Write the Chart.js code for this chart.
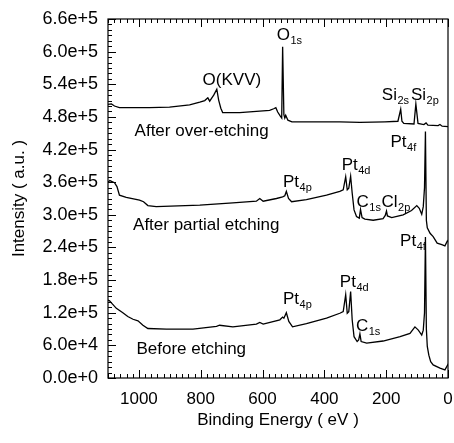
<!DOCTYPE html>
<html>
<head>
<meta charset="utf-8">
<script src="https://cdn.jsdelivr.net/npm/chart.js@4/dist/chart.umd.min.js"></script>
<style>
  html, body { margin: 0; padding: 0; background: #fff; }
  #wrap { width: 454px; height: 443px; }
</style>
</head>
<body>
<div id="wrap"><canvas id="xps"></canvas></div>
<script>
// XPS survey spectra (binding energy in eV, intensity in counts)

// After over-etching
const energyOver = [1100, 1089, 1079, 1063, 966, 901, 836, 803, 787, 777, 771, 764, 758, 748, 742, 735, 729,
  674, 577, 564, 557, 551, 543, 538, 535, 531, 528, 525, 518, 505, 350, 285, 204, 162, 153, 149, 143,
  110, 104, 97, 78, 71, 65, 32, 26, 19, 0];
const intensityOver = [503e3, 504e3, 500e3, 497e3, 497e3, 498e3, 502e3, 507e3, 510e3, 515e3, 509e3, 515e3, 520e3, 531e3, 511e3, 496e3, 488e3,
  488e3, 492e3, 495e3, 497e3, 489e3, 482e3, 478e3, 609e3, 484e3, 478e3, 483e3, 474e3, 471e3, 471e3, 470e3, 471e3, 472e3, 494e3, 472e3, 468e3,
  467e3, 504e3, 468e3, 466e3, 469e3, 465e3, 464e3, 466e3, 463e3, 462e3];

// After partial etching
const energyPartial = [1100, 1094, 1079, 1071, 1063, 1041, 998, 985, 971, 944, 803, 696, 620, 609, 598, 555,
  535, 528, 523, 516, 506, 458, 393, 350, 339, 331, 326, 321, 315, 310, 304, 296, 287, 283, 278, 269,
  242, 210, 203, 199, 196, 182, 145, 118, 101, 93, 85, 80, 76, 73, 70, 67, 58, 48, 35, 20, 10, 2, 0];
const intensityPartial = [360e3, 363e3, 359e3, 352e3, 336e3, 332e3, 327e3, 324e3, 317e3, 315e3, 318e3, 322e3, 325e3, 330e3, 325e3, 330e3,
  333e3, 335e3, 343e3, 330e3, 324e3, 328e3, 336e3, 343e3, 346e3, 370e3, 346e3, 349e3, 371e3, 340e3, 309e3, 297e3, 294e3, 310e3, 295e3, 292e3,
  290e3, 293e3, 299e3, 307e3, 298e3, 295e3, 300e3, 308e3, 317e3, 312e3, 301e3, 315e3, 350e3, 453e3, 290e3, 276e3, 266e3, 260e3, 248e3, 245e3, 243e3, 252e3, 250e3];

// Before etching
const energyBefore = [1100, 1095, 1089, 1073, 1052, 1036, 1019, 1003, 987, 971, 911, 825, 749, 739, 696, 620,
  609, 598, 544, 535, 531, 523, 515, 503, 458, 393, 350, 339, 331, 326, 321, 315, 310, 304, 294, 289,
  285, 281, 263, 210, 155, 123, 107, 96, 85, 80, 76, 73, 70, 67, 62, 56, 48, 26, 10, 1, 0];
const intensityBefore = [143e3, 142e3, 138e3, 128e3, 120e3, 113e3, 108e3, 105e3, 97e3, 91e3, 90e3, 90e3, 95e3, 97e3, 94e3, 99e3,
  102e3, 99e3, 107e3, 112e3, 110e3, 120e3, 104e3, 94e3, 100e3, 110e3, 119e3, 122e3, 153e3, 119e3, 122e3, 159e3, 107e3, 76e3, 67e3, 70e3,
  81e3, 67e3, 64e3, 68e3, 76e3, 82e3, 94e3, 88e3, 79e3, 88e3, 120e3, 259e3, 90e3, 58e3, 42e3, 30e3, 24e3, 18e3, 15e3, 24e3, 22e3];

// tick values (x axis is reversed, so listed left to right)
const xTicks = [1000, 800, 600, 400, 200, 0];
const yTicks = [0, 6e4, 12e4, 18e4, 24e4, 30e4, 36e4, 42e4, 48e4, 54e4, 60e4, 66e4];

// peak / curve labels: [energy of left edge, intensity at baseline, text, subscript]
const peakLabels = [
  [794, 539e3, 'O(KVV)', ''],
  [554, 622e3, 'O', '1s'],
  [214, 511e3, 'Si', '2s'],
  [120, 511e3, 'Si', '2p'],
  [1014, 445e3, 'After over-etching', ''],
  [186, 425e3, 'Pt', '4f'],
  [344, 382e3, 'Pt', '4d'],
  [534, 351e3, 'Pt', '4p'],
  [296, 315e3, 'C', '1s'],
  [215, 315e3, 'Cl', '2p'],
  [1019, 272e3, 'After partial etching', ''],
  [155, 243e3, 'Pt', '4f'],
  [350, 168e3, 'Pt', '4d'],
  [534, 136e3, 'Pt', '4p'],
  [298, 87e3, 'C', '1s'],
  [1008, 45e3, 'Before etching', '']
];

const FONT = '"Liberation Sans", Arial, Helvetica, sans-serif';

function toPoints(xs, ys) {
  return xs.map((x, i) => ({ x: x, y: ys[i] }));
}

function lineSet(xs, ys) {
  return {
    data: toPoints(xs, ys),
    borderColor: '#000',
    borderWidth: 1.3,
    pointRadius: 0,
    tension: 0,
    fill: false
  };
}

// frame + inward ticks, like the original plotting program
const framePlugin = {
  id: 'frame',
  afterDraw(chart) {
    const ctx = chart.ctx;
    const a = chart.chartArea;
    const xs = chart.scales.x, ys = chart.scales.y;
    ctx.save();
    ctx.strokeStyle = '#000';
    ctx.lineWidth = 1.2;
    ctx.strokeRect(a.left, a.top, a.right - a.left, a.bottom - a.top);
    ctx.lineWidth = 1;
    ctx.beginPath();
    for (let e = 0; e <= 1100; e += 20) {
      const px = Math.round(xs.getPixelForValue(e)) + 0.5;
      const len = (e % 200 === 0) ? 8 : 4;
      ctx.moveTo(px, a.bottom); ctx.lineTo(px, a.bottom - len);
      ctx.moveTo(px, a.top); ctx.lineTo(px, a.top + len);
    }
    for (let v = 0; v <= 66e4; v += 1e4) {
      const py = Math.round(ys.getPixelForValue(v)) + 0.5;
      const len = (v % 6e4 === 0) ? 8 : 4;
      ctx.moveTo(a.left, py); ctx.lineTo(a.left + len, py);
    }
    ctx.stroke();
    ctx.restore();
  }
};

const labelPlugin = {
  id: 'peakLabels',
  afterDatasetsDraw(chart) {
    const ctx = chart.ctx;
    const xs = chart.scales.x, ys = chart.scales.y;
    ctx.save();
    ctx.fillStyle = '#000';
    ctx.textBaseline = 'alphabetic';
    ctx.textAlign = 'left';
    peakLabels.forEach(l => {
      let px = xs.getPixelForValue(l[0]);
      const py = ys.getPixelForValue(l[1]);
      ctx.font = '17px ' + FONT;
      ctx.fillText(l[2], px, py);
      if (l[3]) {
        px += ctx.measureText(l[2]).width + 0.5;
        ctx.font = '11px ' + FONT;
        ctx.fillText(l[3], px, py + 4);
      }
    });
    ctx.restore();
  }
};

new Chart(document.getElementById('xps'), {
  type: 'line',
  data: {
    datasets: [
      lineSet(energyOver, intensityOver),
      lineSet(energyPartial, intensityPartial),
      lineSet(energyBefore, intensityBefore)
    ]
  },
  options: {
    responsive: true,
    maintainAspectRatio: false,
    animation: false,
    layout: { padding: { left: 0, right: 6, top: 19, bottom: 0 } },
    plugins: {
      legend: { display: false },
      tooltip: { enabled: false }
    },
    scales: {
      x: {
        type: 'linear',
        reverse: true,
        min: 0,
        max: 1100,
        grid: { display: false, drawTicks: false },
        border: { display: false },
        afterBuildTicks: s => { s.ticks = xTicks.map(v => ({ value: v })); },
        afterFit: s => { s.height = 65; s.paddingLeft = 0; s.paddingRight = 0; },
        ticks: {
          color: '#000',
          padding: 11,
          maxRotation: 0,
          font: { family: FONT, size: 17 },
          callback: v => String(v)
        },
        title: {
          display: true,
          text: 'Binding Energy ( eV )',
          color: '#000',
          font: { family: FONT, size: 17 },
          padding: { top: 0, bottom: 12 }
        }
      },
      y: {
        type: 'linear',
        min: 0,
        max: 66e4,
        grid: { display: false, drawTicks: false },
        border: { display: false },
        afterBuildTicks: s => { s.ticks = yTicks.map(v => ({ value: v })); },
        afterFit: s => { s.width = 108; s.paddingTop = 0; s.paddingBottom = 0; },
        ticks: {
          color: '#000',
          padding: 10,
          font: { family: FONT, size: 18 },
          callback: v => Number(v).toExponential(1)
        },
        title: {
          display: true,
          text: 'Intensity ( a.u. )',
          color: '#000',
          font: { family: FONT, size: 17 },
          padding: { top: 9, bottom: 0 }
        }
      }
    }
  },
  plugins: [framePlugin, labelPlugin]
});
</script>
</body>
</html>
